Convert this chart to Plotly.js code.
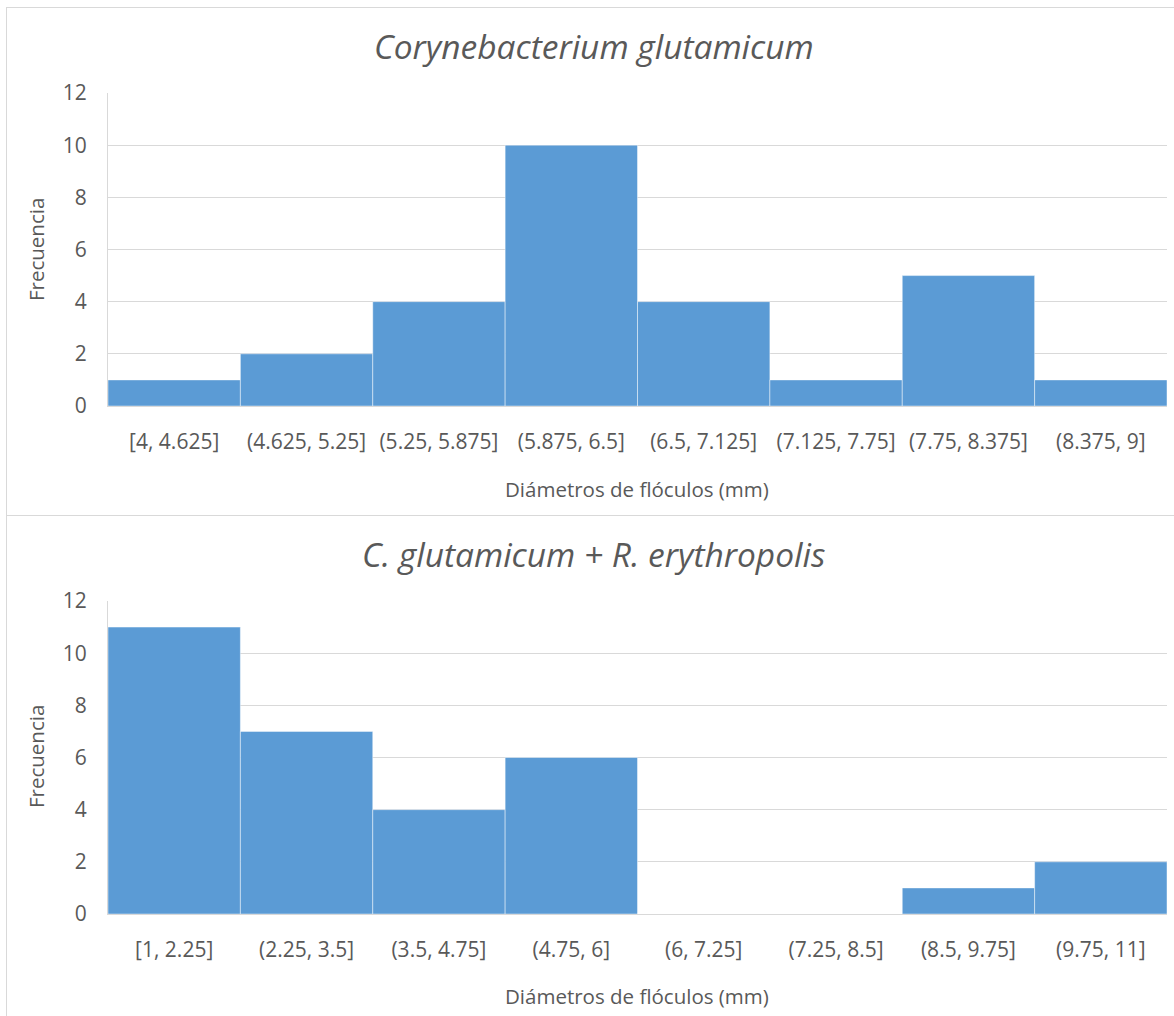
<!DOCTYPE html>
<html>
<head>
<meta charset="utf-8">
<script src="https://cdn.plot.ly/plotly-3.0.1.min.js"></script>
<style>
  html, body { margin: 0; padding: 0; background: #ffffff; }
  #chart { width: 1174px; height: 1016px; }
</style>
</head>
<body>
<div id="chart"></div>
<script>
// Histogram bins and counts for each culture
const binsC = ["[4, 4.625]", "(4.625, 5.25]", "(5.25, 5.875]", "(5.875, 6.5]", "(6.5, 7.125]", "(7.125, 7.75]", "(7.75, 8.375]", "(8.375, 9]"];
const countsC = [1, 2, 4, 10, 4, 1, 5, 1];

const binsCR = ["[1, 2.25]", "(2.25, 3.5]", "(3.5, 4.75]", "(4.75, 6]", "(6, 7.25]", "(7.25, 8.5]", "(8.5, 9.75]", "(9.75, 11]"];
const countsCR = [11, 7, 4, 6, 0, 0, 1, 2];

const titleC = "Corynebacterium glutamicum";
const titleCR = "C. glutamicum + R. erythropolis";
const xTitle = "Diámetros de flóculos (mm)";
const yTitle = "Frecuencia";
const yTicks = [0, 2, 4, 6, 8, 10, 12];

const W = 1174, H = 1016;
const px = v => v / W;
const py = v => 1 - v / H;

const FONT = "Open Sans, Noto Sans, sans-serif";
const TXT = "#595959";
const GRID = "#d9d9d9";
const BAR = "#5b9bd5";

function barTrace(x, y, xa, ya) {
  return {
    type: "bar", x: x, y: y, xaxis: xa, yaxis: ya,
    marker: { color: BAR, line: { color: "rgba(255,255,255,0.45)", width: 1 } },
    hoverinfo: "x+y", showlegend: false
  };
}

function xAxis(anchor) {
  return {
    domain: [px(108), px(1167)], anchor: anchor, type: "category",
    showgrid: false, showline: true, linecolor: GRID, linewidth: 1,
    ticks: "", ticklabelstandoff: 17,
    tickfont: { family: FONT, size: 21, color: TXT }, fixedrange: true
  };
}
function yAxis(domain, anchor) {
  return {
    domain: domain, anchor: anchor, range: [0, 12], tickvals: yTicks,
    showgrid: true, gridcolor: GRID, gridwidth: 1,
    zeroline: false, showline: true, linecolor: GRID, linewidth: 1,
    ticks: "", ticklabelstandoff: 16,
    tickfont: { family: FONT, size: 21, color: TXT }, fixedrange: true
  };
}

const data = [
  barTrace(binsC, countsC, "x", "y"),
  barTrace(binsCR, countsCR, "x2", "y2")
];

const ann = (text, x, y, size, extra) => Object.assign({
  text: text, xref: "paper", yref: "paper", x: px(x), y: py(y),
  xanchor: "center", yanchor: "middle", showarrow: false,
  font: { family: FONT, size: size, color: TXT }
}, extra || {});

const titleFont = { family: FONT, size: 33.5, color: TXT, style: "italic" };

const layout = {
  width: W, height: H,
  margin: { l: 0, r: 0, t: 0, b: 0 },
  paper_bgcolor: "#ffffff", plot_bgcolor: "#ffffff",
  bargap: 0,
  xaxis: xAxis("y"),
  yaxis: yAxis([py(406), py(93)], "x"),
  xaxis2: xAxis("y2"),
  yaxis2: yAxis([py(914), py(601)], "x2"),
  annotations: [
    ann(titleC, 594, 46, 33.5, { font: titleFont }),
    ann(titleCR, 594, 554, 33.5, { font: titleFont }),
    ann(xTitle, 637, 489, 20.5),
    ann(xTitle, 637, 996, 20.5),
    ann(yTitle, 36, 250, 20.5, { textangle: -90 }),
    ann(yTitle, 36, 757, 20.5, { textangle: -90 })
  ],
  shapes: [
    // chart frames
    { type: "line", xref: "paper", yref: "paper", x0: px(6.5), x1: px(6.5), y0: py(7), y1: py(1016), line: { color: GRID, width: 1 } },
    { type: "line", xref: "paper", yref: "paper", x0: px(6), x1: 1, y0: py(7.5), y1: py(7.5), line: { color: GRID, width: 1 } },
    { type: "line", xref: "paper", yref: "paper", x0: px(6), x1: 1, y0: py(515.5), y1: py(515.5), line: { color: GRID, width: 1 } }
  ]
};

Plotly.newPlot("chart", data, layout, { staticPlot: true, displayModeBar: false });
</script>
</body>
</html>
